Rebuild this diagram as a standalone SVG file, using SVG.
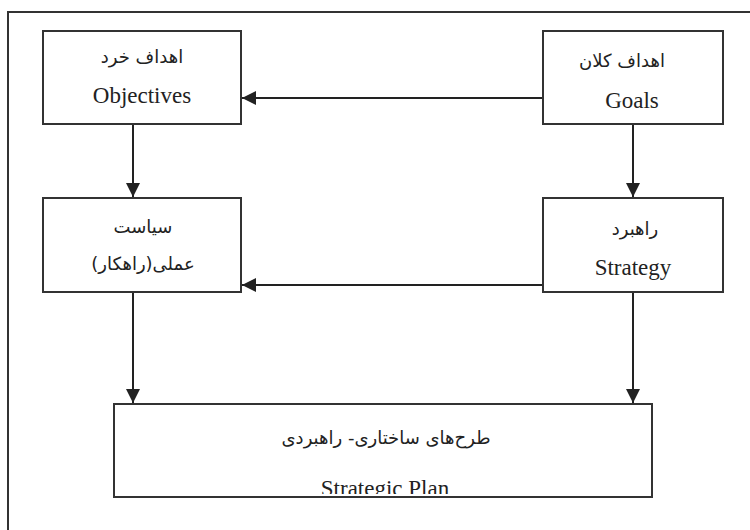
<svg xmlns="http://www.w3.org/2000/svg" width="750" height="530" viewBox="0 0 750 530">
<style>
.box{fill:#fff;stroke:#333;stroke-width:2}
.frame{fill:none;stroke:#333;stroke-width:2}
.en{font-family:"Liberation Serif","Times New Roman",serif;font-size:23px;fill:#222;text-anchor:middle}
.fa{font-family:"DejaVu Sans",sans-serif;font-size:18px;fill:#222;text-anchor:middle;direction:rtl}
.conn{stroke:#222;stroke-width:2;fill:none;marker-end:url(#ah)}
</style>
<defs>
<marker id="ah" markerUnits="userSpaceOnUse" markerWidth="16" markerHeight="16" refX="14" refY="7" orient="auto">
<path d="M0,0 L14,7 L0,14 Z" fill="#222"/>
</marker>
<clipPath id="planclip"><rect x="114" y="404" width="538" height="90"/></clipPath>
</defs>
<rect width="750" height="530" fill="#fff"/>
<path class="frame" d="M8,535 L8,12 L755,12"/>
<g id="connectors">
<line class="conn" x1="543" y1="98" x2="242" y2="98"/>
<line class="conn" x1="543" y1="285" x2="242" y2="285"/>
<line class="conn" x1="133" y1="124" x2="133" y2="197"/>
<line class="conn" x1="633" y1="124" x2="633" y2="197"/>
<line class="conn" x1="133" y1="292" x2="133" y2="403"/>
<line class="conn" x1="633" y1="292" x2="633" y2="403"/>
</g>
<g id="objectives">
<rect class="box" x="43" y="31" width="198" height="93"/>
<text class="fa" x="142" y="63">اهداف خرد</text>
<text class="en" x="142" y="103">Objectives</text>
</g>
<g id="goals">
<rect class="box" x="543" y="31" width="180" height="93"/>
<text class="fa" x="622" y="67">اهداف کلان</text>
<text class="en" x="632" y="108">Goals</text>
</g>
<g id="policy">
<rect class="box" x="43" y="198" width="198" height="94"/>
<text class="fa" x="143" y="233">سیاست</text>
<text class="fa" x="143" y="270">عملی(راهکار)</text>
</g>
<g id="strategy">
<rect class="box" x="543" y="198" width="180" height="94"/>
<text class="fa" x="635" y="235">راهبرد</text>
<text class="en" x="633" y="275">Strategy</text>
</g>
<g id="plan">
<rect class="box" x="114" y="404" width="538" height="93"/>
<text class="fa" x="386" y="444">طرح‌های ساختاری- راهبردی</text>
<text class="en" x="385" y="496" clip-path="url(#planclip)">Strategic Plan</text>
</g>
</svg>
